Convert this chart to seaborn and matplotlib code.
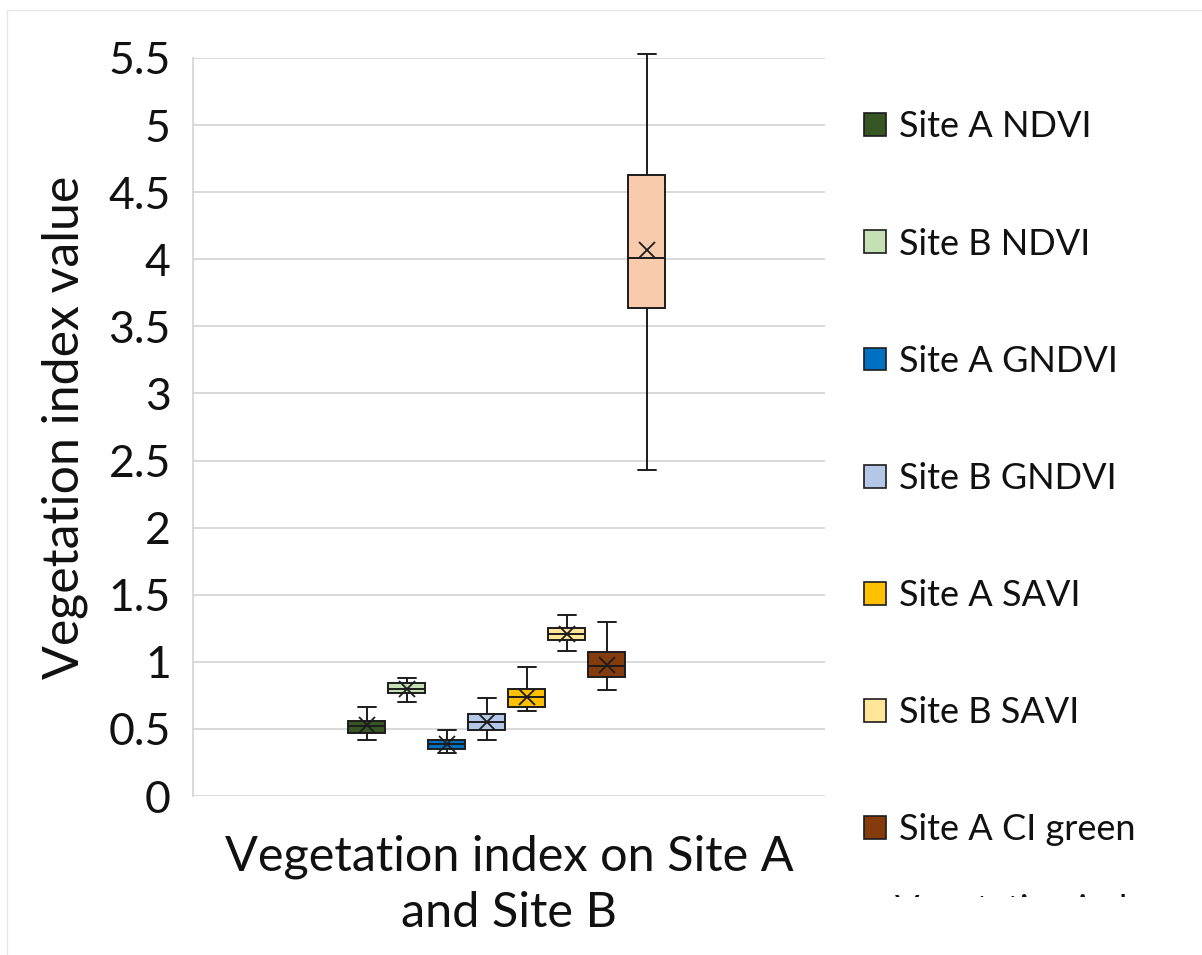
import numpy as np
import pandas as pd
import matplotlib
matplotlib.use("Agg")
import matplotlib.pyplot as plt
import seaborn as sns
from matplotlib.patches import Patch, Rectangle
from matplotlib.transforms import Bbox, TransformedBbox

# ---- data ----
series = ["Site A NDVI", "Site B NDVI", "Site A GNDVI", "Site B GNDVI",
          "Site A SAVI", "Site B SAVI", "Site A CI green", "Site B CI green"]
whisker_low = [0.42, 0.70, 0.32, 0.42, 0.63, 1.08, 0.79, 2.43]
q1 = [0.47, 0.77, 0.35, 0.49, 0.66, 1.16, 0.89, 3.64]
median = [0.52, 0.80, 0.385, 0.55, 0.735, 1.21, 0.97, 4.01]
q3 = [0.56, 0.84, 0.42, 0.61, 0.80, 1.25, 1.07, 4.63]
whisker_high = [0.665, 0.88, 0.49, 0.73, 0.96, 1.35, 1.30, 5.53]
means = [0.53, 0.80, 0.385, 0.55, 0.74, 1.21, 0.98, 4.07]
colors = ["#375623", "#c5e0b4", "#0070c0", "#b4c7e7",
          "#ffc000", "#ffe699", "#843c0c", "#f8cbad"]
legend_labels = series[:7]
clipped_label = "Vegetation index"
yticks = [0, 0.5, 1, 1.5, 2, 2.5, 3, 3.5, 4, 4.5, 5, 5.5]
ytick_labels = ["0", "0.5", "1", "1.5", "2", "2.5", "3", "3.5", "4", "4.5", "5", "5.5"]
xlabel = "Vegetation index on Site A\nand Site B"
ylabel = "Vegetation index value"

# five-number summary per series -> long table (quartiles reproduce exactly)
rows = []
for s, a, b, c, d, e in zip(series, whisker_low, q1, median, q3, whisker_high):
    for v in (a, b, c, d, e):
        rows.append({"series": s, "value": v})
df = pd.DataFrame(rows)
mean_df = pd.DataFrame({"series": series, "mean": means})

sns.set_theme(style="white")
FONT = ["Lato", "DejaVu Sans"]
plt.rcParams["font.family"] = FONT

DPI = 100
W, H = 1202, 955
fig = plt.figure(figsize=(W / DPI, H / DPI), dpi=DPI)
ax = fig.add_axes([193 / W, 1 - 796 / H, (825 - 193) / W, (796 - 58) / H])

edge = "#1c1c1c"
sns.boxplot(data=df, x="series", y="value", hue="series", palette=colors,
            saturation=1, whis=(0, 100), width=0.925, linecolor=edge,
            linewidth=1.4, showfliers=False, legend=False, ax=ax, zorder=3)
sns.pointplot(data=mean_df, x="series", y="mean", color=edge, markers="x",
              linestyles="none", errorbar=None, markersize=12,
              markeredgewidth=1.3, ax=ax, zorder=5)
for ln in ax.lines:
    ln.set_clip_on(False)

ax.set_ylim(0, 5.5)
ax.set_xlim(-4.35, 11.45)
ax.set_yticks(yticks)
ax.set_yticklabels(ytick_labels, fontsize=32)
ax.set_xticks([])
ax.tick_params(axis="y", length=0, pad=16, colors="#111111")
ax.grid(axis="y", color="#d9d9d9", linewidth=1.4, zorder=0)
ax.set_axisbelow(True)
for sp in ["top", "right", "bottom"]:
    ax.spines[sp].set_visible(False)
ax.spines["left"].set_color("#d9d9d9")
ax.spines["left"].set_linewidth(1.4)

ax.set_ylabel(ylabel, fontsize=36, color="#111111")
ax.yaxis.set_label_coords(-0.166, 0.5)
ax.set_xlabel(xlabel, fontsize=35, color="#111111", labelpad=28, linespacing=1.32)

handles = [Patch(facecolor=c, edgecolor=edge, linewidth=1.2) for c in colors[:7]]
leg = fig.legend(handles, legend_labels, loc="upper left",
                 bbox_to_anchor=(850 / W, 1 - 96 / H), frameon=False,
                 fontsize=26, handlelength=0.6, handleheight=0.6,
                 handletextpad=0.35, labelspacing=2.33, borderaxespad=0)
for t in leg.get_texts():
    t.set_color("#111111")

# last legend entry cut off by the chart boundary
clip = TransformedBbox(Bbox([[0, 1 - 897 / H], [1145 / W, 1]]), fig.transFigure)
t8 = fig.text(895 / W, 1 - 910 / H, clipped_label, fontsize=26, va="center",
              ha="left", color="#111111", clip_on=True)
t8.set_clip_box(clip)

# chart-area border
fig.add_artist(Rectangle((7 / W, -0.01), 1.02, 1 - 10 / H + 0.01,
                         transform=fig.transFigure, fill=False,
                         edgecolor="#e6e6e6", linewidth=1.0))

fig.savefig("out.png", dpi=DPI)
